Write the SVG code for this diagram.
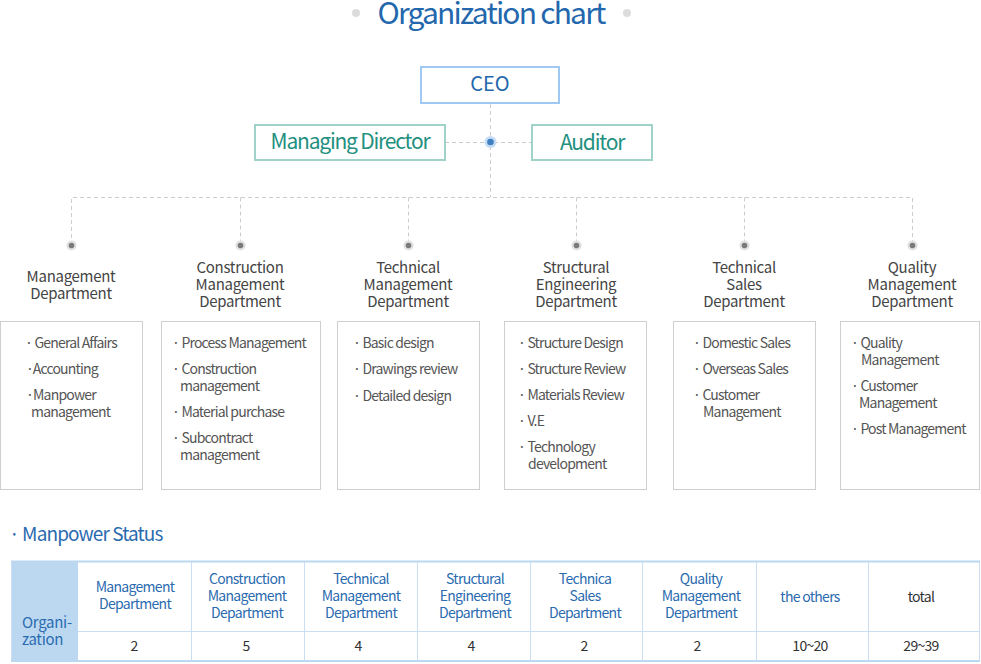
<svg xmlns="http://www.w3.org/2000/svg" width="981" height="664" viewBox="0 0 981 664">
<style>
text{font-family:"Noto Sans CJK KR","Noto Sans",sans-serif;}
.title{font-size:30px;fill:#2367ad;text-anchor:middle;letter-spacing:-1.8px}
.ceo{font-size:20px;fill:#2367ad;text-anchor:middle}
.exec{font-size:21px;fill:#23907f;text-anchor:middle;letter-spacing:-1.2px}
.dept{font-size:15px;fill:#444;text-anchor:middle;letter-spacing:-0.3px}
.item{font-size:14px;fill:#555;letter-spacing:-0.8px}
.box{fill:#fff;stroke:#cfcfcf;stroke-width:1}
.dash{fill:none;stroke:#cccccc;stroke-width:1;stroke-dasharray:4 3}
.th{font-size:14px;fill:#2a6bb0;text-anchor:middle;letter-spacing:-0.7px}
.td{font-size:14px;fill:#333;text-anchor:middle;letter-spacing:-0.7px}
.grid{stroke:#c9def3;stroke-width:1;fill:none}
</style>
<rect width="981" height="664" fill="#fff"/>
<g id="title">
<circle cx="356" cy="13" r="4" fill="#dcdcdc"/>
<circle cx="627" cy="13" r="4" fill="#dcdcdc"/>
<text class="title" x="491" y="24">Organization chart</text>
</g>
<g id="connectors">
<path class="dash" d="M490.5 104V197"/>
<path class="dash" d="M445 142.5H532"/>
<path class="dash" d="M71.5 245V197.5H912.5V245"/>
<path class="dash" d="M240.5 197.5V245M408.5 197.5V245M576.5 197.5V245M744.5 197.5V245"/>
<g fill="#e0e0e0">
<circle cx="71.5" cy="245.5" r="5"/><circle cx="240.5" cy="245.5" r="5"/><circle cx="408.5" cy="245.5" r="5"/><circle cx="576.5" cy="245.5" r="5"/><circle cx="744.5" cy="245.5" r="5"/><circle cx="912.5" cy="245.5" r="5"/>
</g>
<g fill="#7a7a7a">
<circle cx="71.5" cy="245.5" r="2.8"/><circle cx="240.5" cy="245.5" r="2.8"/><circle cx="408.5" cy="245.5" r="2.8"/><circle cx="576.5" cy="245.5" r="2.8"/><circle cx="744.5" cy="245.5" r="2.8"/><circle cx="912.5" cy="245.5" r="2.8"/>
</g>
<circle cx="490.5" cy="142" r="6" fill="#c6ddf5"/>
<circle cx="490.5" cy="142" r="3.3" fill="#3f7fc2"/>
</g>
<g id="ceo">
<rect x="421" y="67" width="138" height="36" fill="#fff" stroke="#9fc9f2" stroke-width="2"/>
<text class="ceo" x="490" y="91">CEO</text>
</g>
<g id="managing-director">
<rect x="255" y="125" width="190" height="35" fill="#fff" stroke="#9fd3c9" stroke-width="2"/>
<text class="exec" x="350" y="149">Managing Director</text>
</g>
<g id="auditor">
<rect x="532" y="125" width="120" height="35" fill="#fff" stroke="#9fd3c9" stroke-width="2"/>
<text class="exec" x="592" y="150">Auditor</text>
</g>
<g id="dept-management">
<text class="dept" x="71" y="282">Management</text>
<text class="dept" x="71" y="299">Department</text>
<rect class="box" x="0.5" y="321.5" width="142" height="168"/>
<text class="item" x="25" y="348">· General Affairs</text>
<text class="item" x="26" y="374">·Accounting</text>
<text class="item" x="26" y="400">·Manpower</text>
<text class="item" x="31" y="417">management</text>
</g>
<g id="dept-construction">
<text class="dept" x="240" y="273">Construction</text>
<text class="dept" x="240" y="290">Management</text>
<text class="dept" x="240" y="307">Department</text>
<rect class="box" x="161.5" y="321.5" width="159" height="168"/>
<text class="item" x="172" y="348">· Process Management</text>
<text class="item" x="172" y="374">· Construction</text>
<text class="item" x="180" y="391">management</text>
<text class="item" x="172" y="417">· Material purchase</text>
<text class="item" x="172" y="443">· Subcontract</text>
<text class="item" x="180" y="460">management</text>
</g>
<g id="dept-technical">
<text class="dept" x="408" y="273">Technical</text>
<text class="dept" x="408" y="290">Management</text>
<text class="dept" x="408" y="307">Department</text>
<rect class="box" x="337.5" y="321.5" width="142" height="168"/>
<text class="item" x="353" y="348">· Basic design</text>
<text class="item" x="353" y="374">· Drawings review</text>
<text class="item" x="353" y="401">· Detailed design</text>
</g>
<g id="dept-structural">
<text class="dept" x="576" y="273">Structural</text>
<text class="dept" x="576" y="290">Engineering</text>
<text class="dept" x="576" y="307">Department</text>
<rect class="box" x="504.5" y="321.5" width="142" height="168"/>
<text class="item" x="518" y="348">· Structure Design</text>
<text class="item" x="518" y="374">· Structure Review</text>
<text class="item" x="518" y="400">· Materials Review</text>
<text class="item" x="518" y="426">· V.E</text>
<text class="item" x="518" y="452">· Technology</text>
<text class="item" x="528" y="469">development</text>
</g>
<g id="dept-sales">
<text class="dept" x="744" y="273">Technical</text>
<text class="dept" x="744" y="290">Sales</text>
<text class="dept" x="744" y="307">Department</text>
<rect class="box" x="673.5" y="321.5" width="142" height="168"/>
<text class="item" x="693" y="348">· Domestic Sales</text>
<text class="item" x="693" y="374">· Overseas Sales</text>
<text class="item" x="693" y="400">· Customer</text>
<text class="item" x="703" y="417">Management</text>
</g>
<g id="dept-quality">
<text class="dept" x="912" y="273">Quality</text>
<text class="dept" x="912" y="290">Management</text>
<text class="dept" x="912" y="307">Department</text>
<rect class="box" x="840.5" y="321.5" width="139" height="168"/>
<text class="item" x="851" y="348">· Quality</text>
<text class="item" x="861" y="365">Management</text>
<text class="item" x="851" y="391">· Customer</text>
<text class="item" x="859" y="408">Management</text>
<text class="item" x="851" y="434">· Post Management</text>
</g>
<g id="manpower-status">
<text x="9" y="541" font-size="19" fill="#2a6bb0" letter-spacing="-0.9">· Manpower Status</text>
<rect x="11" y="561" width="67" height="100" fill="#bcd8f1"/>
<rect class="grid" x="11.5" y="561.5" width="968" height="99"/>
<path d="M11 561.5H980" stroke="#bcd8f1" stroke-width="2"/>
<path d="M11 661H980" stroke="#bcd8f1" stroke-width="2"/>
<path class="grid" d="M78 631.5H980M191.5 562V661M304.5 562V661M417.5 562V661M530.5 562V661M642.5 562V661M756.5 562V661M868.5 562V661"/>
<text x="22" y="628" font-size="15" fill="#2a6bb0" letter-spacing="-0.3">Organi-</text>
<text x="22" y="645" font-size="15" fill="#2a6bb0" letter-spacing="-0.3">zation</text>
<text class="th" x="135" y="592">Management</text>
<text class="th" x="135" y="609">Department</text>
<text class="th" x="247" y="584">Construction</text>
<text class="th" x="247" y="601">Management</text>
<text class="th" x="247" y="618">Department</text>
<text class="th" x="361" y="584">Technical</text>
<text class="th" x="361" y="601">Management</text>
<text class="th" x="361" y="618">Department</text>
<text class="th" x="475" y="584">Structural</text>
<text class="th" x="475" y="601">Engineering</text>
<text class="th" x="475" y="618">Department</text>
<text class="th" x="585" y="584">Technica</text>
<text class="th" x="585" y="601">Sales</text>
<text class="th" x="585" y="618">Department</text>
<text class="th" x="701" y="584">Quality</text>
<text class="th" x="701" y="601">Management</text>
<text class="th" x="701" y="618">Department</text>
<text class="th" x="810" y="602">the others</text>
<text class="td" x="921" y="602">total</text>
<text class="td" x="134" y="651">2</text>
<text class="td" x="246" y="651">5</text>
<text class="td" x="358" y="651">4</text>
<text class="td" x="471" y="651">4</text>
<text class="td" x="584" y="651">2</text>
<text class="td" x="697" y="651">2</text>
<text class="td" x="810" y="651">10~20</text>
<text class="td" x="921" y="651">29~39</text>
</g>
</svg>
